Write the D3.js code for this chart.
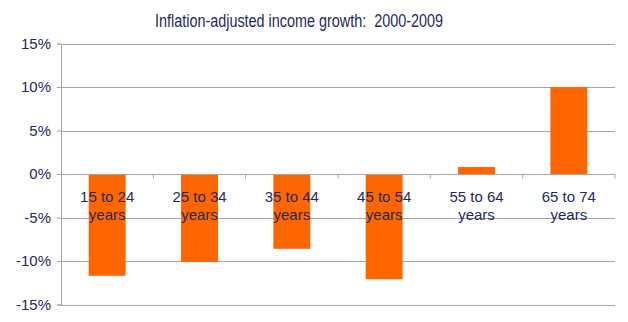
<!DOCTYPE html>
<html><head><meta charset="utf-8">
<script src="https://cdn.jsdelivr.net/npm/d3@7"></script>
<style>body{margin:0;background:#fff;} svg{display:block;}</style>
</head><body>
<script>
const title = "Inflation-adjusted income growth:  2000-2009";
const categories = ["15 to 24 years","25 to 34 years","35 to 44 years","45 to 54 years","55 to 64 years","65 to 74 years"];
const values = [-11.7, -10.1, -8.6, -12.1, 0.8, 10.0];
const yTicks = [-15, -10, -5, 0, 5, 10, 15];

(function() {
const W = 628, H = 322;
const mLeft = 61, mRight = 615, mTop = 43.5, mBottom = 304.5;
const svg = d3.select("body").append("svg").attr("width", W).attr("height", H);
const font = "Liberation Sans, Arial, sans-serif";
const textCol = "#1F2A5C";
const gridCol = "#A6A6A6";

const x = d3.scaleBand().domain(categories).range([mLeft, mRight]).paddingInner(0.6).paddingOuter(0.3);
const xb = d3.scaleLinear().domain([0, categories.length]).range([mLeft, mRight]);
const y = d3.scaleLinear().domain([-15, 15]).range([mBottom, mTop]);

// gridlines
const yAxis = d3.axisLeft(y).tickValues(yTicks).tickSize(4).tickFormat(d => d + "%");
const gy = svg.append("g").attr("transform", `translate(${mLeft},0)`).call(yAxis);
gy.select(".domain").attr("stroke", gridCol);
gy.selectAll(".tick line").attr("stroke", gridCol);
gy.selectAll(".tick text").attr("font-family", font).attr("font-size", 15).attr("fill", textCol).attr("x", -10);
svg.append("g").selectAll("line").data(yTicks).join("line")
  .attr("x1", mLeft).attr("x2", mRight).attr("y1", d => Math.round(y(d)) + 0.5).attr("y2", d => Math.round(y(d)) + 0.5)
  .attr("stroke", gridCol).attr("stroke-width", 1);

// bars
svg.append("g").selectAll("rect").data(values).join("rect")
  .attr("x", (d, i) => x(categories[i]))
  .attr("width", x.bandwidth())
  .attr("y", d => y(Math.max(0, d)))
  .attr("height", d => Math.abs(y(d) - y(0)))
  .attr("fill", "#FF6600");

// x axis at zero
const gx = svg.append("g").attr("transform", `translate(0,${Math.round(y(0)) + 0.5})`);
gx.append("line").attr("x1", mLeft).attr("x2", mRight).attr("stroke", gridCol);
gx.selectAll("line.tk").data(d3.range(1, categories.length + 1)).join("line").attr("class", "tk")
  .attr("x1", d => xb(d)).attr("x2", d => xb(d)).attr("y1", 0).attr("y2", 4).attr("stroke", gridCol);

// category labels
const lab = svg.append("g").selectAll("text").data(categories).join("text")
  .attr("font-family", font).attr("font-size", 15).attr("fill", textCol).attr("text-anchor", "middle")
  .attr("transform", d => `translate(${x(d) + x.bandwidth() / 2},${y(0)})`);
lab.each(function(d) {
  const parts = [d.replace(" years", ""), "years"];
  d3.select(this).selectAll("tspan").data(parts).join("tspan")
    .attr("x", 0).attr("y", (p, i) => 28 + i * 17.5).text(p => p);
});

// title
svg.append("text").attr("x", 299).attr("y", 26.5).attr("text-anchor", "middle")
  .attr("font-family", font).attr("font-size", 17.5).attr("fill", textCol).style("white-space", "pre")
  .attr("textLength", 288).attr("lengthAdjust", "spacingAndGlyphs")
  .text(title);
})();
</script>
</body></html>
